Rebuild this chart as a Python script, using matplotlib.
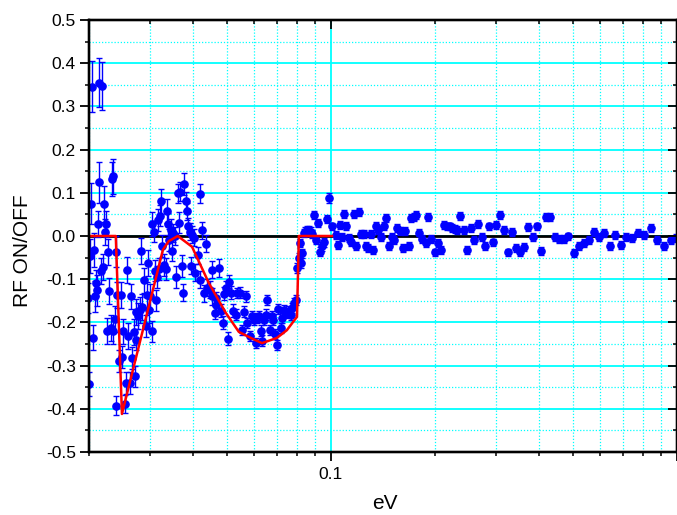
import matplotlib
matplotlib.use("Agg")
import matplotlib.pyplot as plt
from matplotlib.ticker import FixedLocator, NullFormatter, FixedFormatter
import numpy as np

plt.rcParams['font.family'] = ['Liberation Sans', 'DejaVu Sans']

# ---- measured data (eV, RF ON/OFF, error) ----
x_ev = [
    0.01989, 0.01998, 0.02009, 0.02026, 0.02044, 0.02053, 0.02073, 0.02080, 0.02098, 0.02112,
    0.02122, 0.02132, 0.02140, 0.02160, 0.02179, 0.02193, 0.02212, 0.02227, 0.02242, 0.02257,
    0.02267, 0.02282, 0.02319, 0.02325, 0.02350, 0.02352, 0.02376, 0.02387, 0.02397, 0.02413,
    0.02440, 0.02468, 0.02484, 0.02511, 0.02534, 0.02551, 0.02573, 0.02596, 0.02620, 0.02642,
    0.02665, 0.02695, 0.02713, 0.02726, 0.02737, 0.02774, 0.02800, 0.02819, 0.02838, 0.02876,
    0.02914, 0.02934, 0.02953, 0.02979, 0.02993, 0.03033, 0.03045, 0.03073, 0.03100, 0.03127,
    0.03148, 0.03169, 0.03184, 0.03206, 0.03227, 0.03255, 0.03291, 0.03328, 0.03364, 0.03386,
    0.03402, 0.03441, 0.03471, 0.03494, 0.03541, 0.03577, 0.03613, 0.03637, 0.03674, 0.03703,
    0.03736, 0.03773, 0.03811, 0.03837, 0.03871, 0.03913, 0.03947, 0.03974, 0.04019, 0.04060,
    0.04127, 0.04175, 0.04197, 0.04248, 0.04297, 0.04345, 0.04392, 0.04471, 0.04540, 0.04545,
    0.04623, 0.04644, 0.04663, 0.04746, 0.04800, 0.04884, 0.04907, 0.04990, 0.05030, 0.05072,
    0.05140, 0.05209, 0.05303, 0.05359, 0.05446, 0.05541, 0.05603, 0.05690, 0.05728, 0.05821,
    0.05923, 0.05991, 0.06059, 0.06124, 0.06193, 0.06264, 0.06332, 0.06404, 0.06477, 0.06547,
    0.06650, 0.06739, 0.06797, 0.06889, 0.06981, 0.07042, 0.07156, 0.07233, 0.07315, 0.07429,
    0.07529, 0.07651, 0.07733, 0.07822, 0.07911, 0.07996, 0.08082, 0.08120, 0.08174, 0.08262,
    0.08356, 0.08440, 0.08542, 0.08638, 0.08737, 0.08813, 0.08931, 0.09070, 0.09192, 0.09296,
    0.09440, 0.09529, 0.09722, 0.09868,
    0.1005, 0.1032, 0.1050, 0.1062, 0.1078, 0.1093, 0.1108, 0.1127, 0.1145, 0.1165,
    0.1183, 0.1205, 0.1224, 0.1243, 0.1265, 0.1282, 0.1306, 0.1326, 0.1347, 0.1370,
    0.1395, 0.1421, 0.1446, 0.1471, 0.1498, 0.1524, 0.1551, 0.1579, 0.1614, 0.1640,
    0.1676, 0.1705, 0.1736, 0.1766, 0.1801, 0.1838, 0.1879, 0.1912, 0.1950, 0.1999,
    0.2039, 0.2081, 0.2127, 0.2166, 0.2206, 0.2244, 0.2285, 0.2320, 0.2367, 0.2422,
    0.2480, 0.2538, 0.2595, 0.2660, 0.2725, 0.2788, 0.2857, 0.2935, 0.3003, 0.3073,
    0.3168, 0.3254, 0.3341, 0.3431, 0.3524, 0.3618, 0.3723, 0.3830, 0.3933, 0.4050,
    0.4170, 0.4302, 0.4436, 0.4556, 0.4701, 0.4850, 0.5025, 0.5199, 0.5374, 0.5568,
    0.5771, 0.5951, 0.6153, 0.6390, 0.6620, 0.6879, 0.7137, 0.7433, 0.7732, 0.8050,
    0.8401, 0.8764, 0.9173, 0.9592, 0.9915,
]
rf_ratio = [
    -0.143, -0.342, -0.046, 0.075, 0.346, -0.235, -0.032, -0.140, -0.109, -0.126,
    0.028, 0.124, 0.355, -0.082, 0.347, -0.071, 0.074, 0.010, 0.028, -0.219,
    -0.036, -0.127, -0.214, 0.132, -0.219, 0.138, -0.192, -0.036, -0.393, -0.137,
    -0.290, -0.137, -0.280, -0.221, -0.389, -0.340, -0.078, -0.231, -0.340, -0.140,
    -0.283, -0.223, -0.325, -0.240, -0.175, -0.186, -0.171, -0.034, -0.164, -0.103,
    -0.208, -0.136, -0.063, -0.172, -0.140, 0.028, -0.221, 0.010, -0.080, -0.149,
    -0.095, 0.037, -0.077, 0.047, 0.080, -0.023, -0.067, -0.077, 0.057, 0.028,
    -0.009, 0.014, -0.034, 0.007, 0.000, -0.095, 0.099, 0.031, 0.103, -0.069,
    -0.131, 0.121, 0.080, 0.057, 0.022, 0.010, -0.069, 0.003, -0.004, -0.085,
    -0.045, 0.098, -0.101, 0.013, -0.133, -0.018, -0.120, -0.124, -0.078, -0.140,
    -0.178, -0.144, -0.159, -0.074, -0.173, -0.201, -0.134, -0.120, -0.238, -0.106,
    -0.131, -0.173, -0.182, -0.132, -0.131, -0.217, -0.175, -0.140, -0.201, -0.232,
    -0.186, -0.194, -0.248, -0.190, -0.186, -0.219, -0.242, -0.194, -0.182, -0.148,
    -0.217, -0.186, -0.194, -0.227, -0.252, -0.169, -0.213, -0.190, -0.171, -0.178,
    -0.175, -0.182, -0.167, -0.155, -0.148, -0.074, -0.051, -0.016, -0.063, -0.040,
    0.007, 0.010, 0.014, 0.012, 0.010, 0.005, 0.049, -0.009, 0.030, -0.036,
    -0.024, -0.015, 0.039, 0.088,
    0.022, 0.003, -0.020, 0.026, -0.003, 0.051, 0.024, -0.004, -0.015, 0.051,
    -0.023, 0.056, 0.004, 0.005, -0.023, -0.028, 0.004, -0.032, 0.024, 0.013,
    -0.003, 0.024, 0.041, -0.023, -0.003, -0.009, 0.018, 0.012, -0.028, 0.012,
    -0.023, 0.041, 0.044, 0.049, 0.008, -0.007, -0.016, 0.044, -0.007, -0.038,
    -0.016, -0.032, 0.026, 0.022, 0.022, 0.018, 0.016, 0.014, 0.047, 0.014,
    -0.032, 0.018, -0.010, 0.028, -0.003, -0.023, 0.022, -0.015, 0.026, 0.049,
    0.013, -0.038, 0.010, -0.028, -0.038, -0.026, 0.021, -0.003, 0.022, -0.034,
    0.044, 0.044, -0.003, -0.007, -0.007, -0.001, -0.040, -0.024, -0.016, -0.010,
    0.010, -0.003, 0.007, -0.023, 0.003, -0.020, -0.003, -0.005, 0.008, 0.003,
    0.018, -0.010, -0.023, -0.009, -0.005,
]
rf_err = [
    0.035, 0.028, 0.040, 0.048, 0.058, 0.030, 0.040, 0.035, 0.030, 0.035,
    0.030, 0.048, 0.057, 0.030, 0.056, 0.030, 0.042, 0.030, 0.030, 0.030,
    0.030, 0.030, 0.030, 0.040, 0.030, 0.040, 0.030, 0.035, 0.022, 0.030,
    0.025, 0.030, 0.025, 0.030, 0.020, 0.025, 0.030, 0.030, 0.025, 0.030,
    0.025, 0.030, 0.025, 0.025, 0.030, 0.030, 0.030, 0.030, 0.030, 0.030,
    0.025, 0.030, 0.030, 0.030, 0.030, 0.028, 0.025, 0.025, 0.025, 0.025,
    0.025, 0.025, 0.025, 0.025, 0.028, 0.025, 0.025, 0.025, 0.028, 0.025,
    0.025, 0.025, 0.025, 0.020, 0.020, 0.025, 0.022, 0.025, 0.022, 0.025,
    0.020, 0.025, 0.022, 0.020, 0.020, 0.020, 0.020, 0.020, 0.020, 0.020,
    0.020, 0.022, 0.020, 0.020, 0.020, 0.020, 0.020, 0.020, 0.020, 0.020,
    0.015, 0.015, 0.015, 0.020, 0.015, 0.015, 0.015, 0.015, 0.015, 0.015,
    0.015, 0.015, 0.012, 0.012, 0.012, 0.012, 0.012, 0.012, 0.012, 0.012,
    0.012, 0.012, 0.012, 0.012, 0.012, 0.012, 0.012, 0.012, 0.012, 0.012,
    0.012, 0.012, 0.012, 0.012, 0.012, 0.012, 0.012, 0.012, 0.012, 0.012,
    0.012, 0.012, 0.012, 0.012, 0.012, 0.012, 0.012, 0.010, 0.012, 0.010,
    0.010, 0.010, 0.010, 0.010, 0.010, 0.010, 0.010, 0.010, 0.010, 0.010,
    0.010, 0.010, 0.010, 0.012,
] + [0.009] * 95

# ---- fit curve ----
fit_x = [0.0200, 0.0239, 0.0249, 0.0327, 0.0340, 0.0361, 0.0397, 0.0444, 0.0497,
         0.0542, 0.0587, 0.0632, 0.0698, 0.0746, 0.0798, 0.0808, 0.1007]
fit_y = [0.000, 0.000, -0.412, -0.032, -0.012, 0.000, -0.025, -0.109, -0.178,
         -0.222, -0.236, -0.248, -0.236, -0.218, -0.187, 0.000, 0.000]

y_major = [-0.5, -0.4, -0.3, -0.2, -0.1, 0.0, 0.1, 0.2, 0.3, 0.4, 0.5]
y_minor = [-0.45, -0.35, -0.25, -0.15, -0.05, 0.05, 0.15, 0.25, 0.35, 0.45]
x_major = [0.1, 1.0]
x_major_labels = ['0.1', '']
x_minor = [0.02, 0.03, 0.04, 0.05, 0.06, 0.07, 0.08, 0.09,
           0.2, 0.3, 0.4, 0.5, 0.6, 0.7, 0.8, 0.9]

W, H = 677, 515
fig = plt.figure(figsize=(W / 100, H / 100), dpi=100)
ax = fig.add_axes([89 / W, 1 - 452 / H, 588 / W, 432 / H])

cyan = '#00FFFF'
blue = '#0000FF'

ax.set_xscale('log')
ax.set_xlim(0.02, 1.0)
ax.set_ylim(-0.5, 0.5)

ax.xaxis.set_major_locator(FixedLocator(x_major))
ax.xaxis.set_major_formatter(FixedFormatter(x_major_labels))
ax.xaxis.set_minor_locator(FixedLocator(x_minor))
ax.xaxis.set_minor_formatter(NullFormatter())
ax.yaxis.set_major_locator(FixedLocator(y_major))
ax.yaxis.set_minor_locator(FixedLocator(y_minor))
ax.set_yticklabels([f'{v:.1f}' for v in y_major])

ax.grid(which='major', color=cyan, linestyle='-', linewidth=1.3, zorder=0)
ax.grid(which='minor', color=cyan, linestyle=(0, (1, 1.5)), linewidth=0.9, zorder=0)
ax.set_axisbelow(True)

ax.axhline(0.0, color='black', linewidth=2.0, zorder=1.5)

ax.errorbar(x_ev, rf_ratio, yerr=rf_err, fmt='o', color=blue, ecolor=blue,
            markersize=5.2, elinewidth=1.0, capsize=2.0, capthick=1.0, zorder=3)
ax.plot(fit_x, fit_y, color='#FF0000', linewidth=1.8, zorder=4)

for s in ax.spines.values():
    s.set_linewidth(1.6)
    s.set_zorder(5)

ax.tick_params(which='major', direction='out', length=6.5, width=1.3,
               labelsize=12.5, pad=3, top=False, right=False)
ax.tick_params(which='minor', direction='out', length=3, width=1.1,
               top=False, right=False)
ax.tick_params(axis='x', which='major', pad=4)

# mirrored inward ticks on top and right
axt = ax.twiny()
axt.set_xscale('log')
axt.set_xlim(ax.get_xlim())
axt.xaxis.set_major_locator(FixedLocator(x_major))
axt.xaxis.set_minor_locator(FixedLocator(x_minor))
axt.xaxis.set_major_formatter(NullFormatter())
axt.xaxis.set_minor_formatter(NullFormatter())
axt.tick_params(which='major', direction='in', length=6.5, width=1.3)
axt.tick_params(which='minor', direction='in', length=3, width=1.1)
axt.yaxis.set_visible(False)

axr = ax.twinx()
axr.set_ylim(ax.get_ylim())
axr.yaxis.set_major_locator(FixedLocator(y_major))
axr.yaxis.set_minor_locator(FixedLocator(y_minor))
axr.yaxis.set_major_formatter(NullFormatter())
axr.tick_params(which='major', direction='in', length=6.5, width=1.3)
axr.tick_params(which='minor', direction='in', length=3, width=1.1)
for a in (axt, axr):
    for s in a.spines.values():
        s.set_linewidth(1.6)
    a.patch.set_visible(False)

fig.text(28 / W, 1 - 251 / H, 'RF ON/OFF', rotation=90, rotation_mode='anchor',
         ha='center', va='baseline', fontsize=15)
fig.text(385 / W, 1 - 509 / H, 'eV', ha='center', va='baseline', fontsize=15)

fig.savefig('out.png', dpi=100)
